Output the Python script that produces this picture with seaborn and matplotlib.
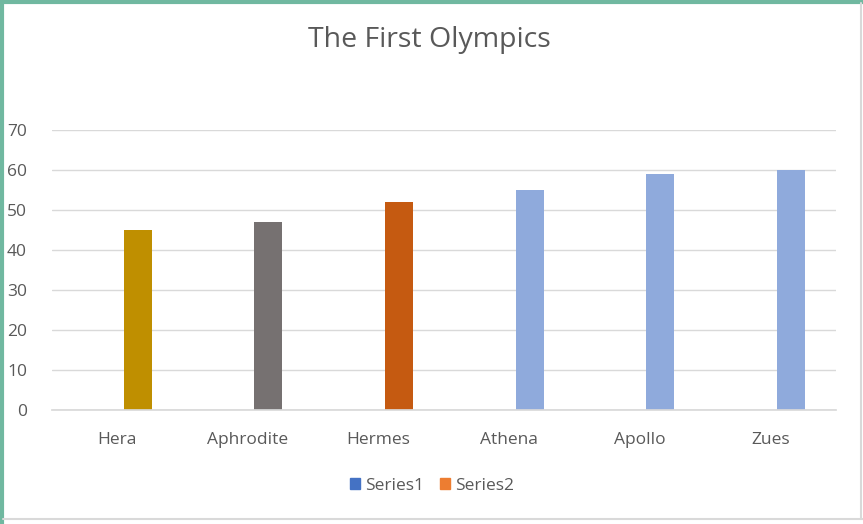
import matplotlib
matplotlib.use("Agg")
import matplotlib.pyplot as plt
import matplotlib.patches as mpatches
from matplotlib.lines import Line2D
import seaborn as sns
import pandas as pd
import numpy as np

categories = ["Hera", "Aphrodite", "Hermes", "Athena", "Apollo", "Zues"]
series1 = [np.nan] * 6
series2 = [45, 47, 52, 55, 59, 60]
bar_colors = ["#BF8F00", "#767171", "#C55A11", "#8FAADC", "#8FAADC", "#8FAADC"]
series_names = ["Series1", "Series2"]
series_colors = ["#4472C4", "#ED7D31"]
yticks = [0, 10, 20, 30, 40, 50, 60, 70]

sns.set_theme(style="white")
plt.rcParams["font.family"] = ["Open Sans", "DejaVu Sans"]

df = pd.DataFrame({
    "cat": categories * 2,
    "val": series1 + series2,
    "series": [series_names[0]] * 6 + [series_names[1]] * 6,
})

fig = plt.figure(figsize=(8.63, 5.24), dpi=100)
ax = fig.add_axes([52 / 863, 1 - 410 / 524, (836 - 52) / 863, 280 / 524])

sns.barplot(data=df, x="cat", y="val", hue="series", order=categories,
            hue_order=series_names, palette=series_colors, width=0.62, gap=0.31,
            ax=ax, legend=False, errorbar=None, linewidth=0)

# recolor the Series2 bars per point
s2_patches = [p for p in ax.patches if np.isfinite(p.get_height()) and p.get_height() > 0]
s2_patches.sort(key=lambda p: p.get_x())
for p, c in zip(s2_patches, bar_colors):
    p.set_facecolor(c)
    p.set_edgecolor(c)

ax.set_ylim(0, 70)
ax.set_yticks(yticks)
ax.set_xlim(-0.5, len(categories) - 0.5)
ax.grid(axis="y", color="#D9D9D9", linewidth=1)
ax.set_axisbelow(True)
for s in ["top", "right", "left"]:
    ax.spines[s].set_visible(False)
ax.spines["bottom"].set_color("#D9D9D9")
ax.set_xlabel("")
ax.set_ylabel("")
ax.tick_params(axis="both", length=0, colors="#595959", labelsize=12.5)
ax.tick_params(axis="x", pad=16)
ax.tick_params(axis="y", pad=18)

fig.text(429 / 863, 1 - 40 / 524, "The First Olympics", ha="center", va="center",
         fontsize=20.5, color="#595959")

handles = [mpatches.Patch(facecolor=c, edgecolor=c, label=n)
           for n, c in zip(series_names, series_colors)]
fig.legend(handles=handles, loc="center", bbox_to_anchor=(432 / 863, 1 - 486 / 524),
           ncol=2, frameon=False, fontsize=12.5, handlelength=0.6, handleheight=0.6,
           handletextpad=0.3, columnspacing=0.9, labelcolor="#595959")

# frame like the screenshot
fig.add_artist(Line2D([1.5 / 863, 1.5 / 863], [0, 1], transform=fig.transFigure,
                      color="#70B8A0", linewidth=3))
fig.add_artist(Line2D([0, 1], [1 - 1.5 / 524, 1 - 1.5 / 524], transform=fig.transFigure,
                      color="#70B8A0", linewidth=3))
fig.add_artist(Line2D([861 / 863, 861 / 863], [1 - 519 / 524, 1 - 3 / 524],
                      transform=fig.transFigure, color="#D9D9D9", linewidth=1.5))
fig.add_artist(Line2D([3 / 863, 1], [1 - 519 / 524, 1 - 519 / 524],
                      transform=fig.transFigure, color="#D9D9D9", linewidth=1.5))

fig.savefig("out.png", dpi=100)
